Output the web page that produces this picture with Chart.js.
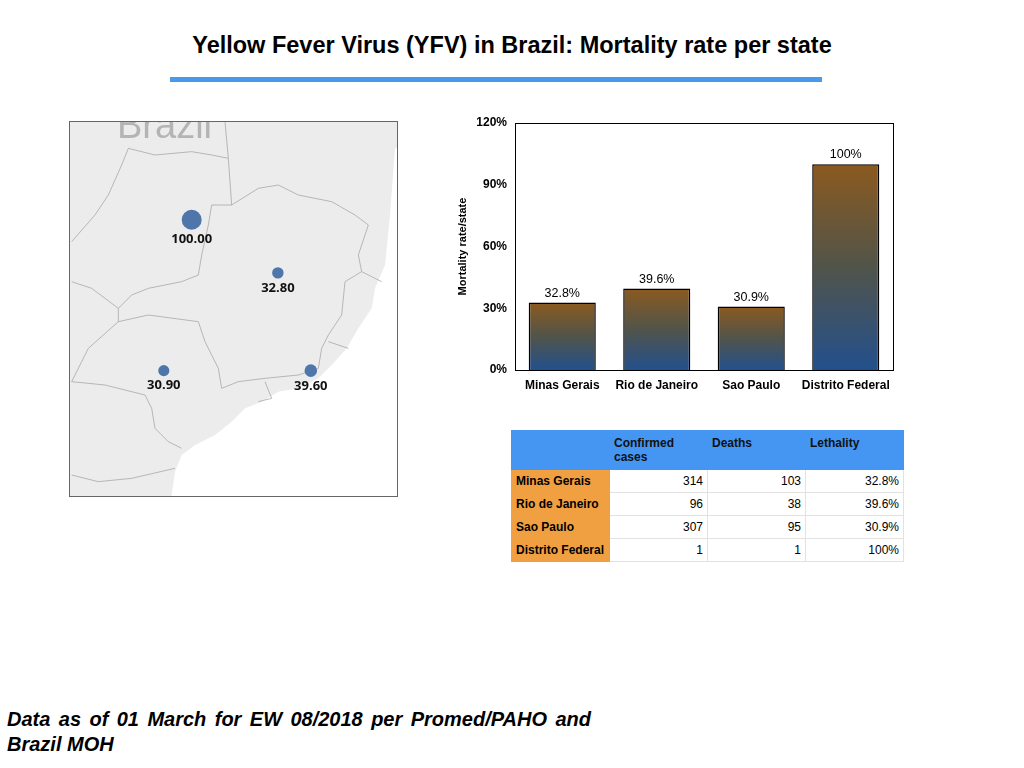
<!DOCTYPE html>
<html>
<head>
<meta charset="utf-8">
<script src="https://cdn.jsdelivr.net/npm/chart.js@4/dist/chart.umd.min.js"></script>
<style>
  body { margin: 0; width: 1024px; height: 768px; background: #fff; position: relative; overflow: hidden; font-family: "Liberation Sans", Arial, sans-serif; }
  #title { position: absolute; left: 0; width: 1024px; top: 32px; text-align: center; font-weight: bold; font-size: 23.5px; color: #000; }
  #rule { position: absolute; left: 170px; top: 77px; width: 652px; height: 5px; background: #4a98ec; }
  #mapBox { position: absolute; left: 70px; top: 122px; width: 327px; height: 374px; }
  #mapFrame { position: absolute; left: 69px; top: 121px; width: 327px; height: 374px; border: 1.5px solid #666; pointer-events: none; }
  #barBox { position: absolute; left: 450px; top: 110px; width: 460px; height: 290px; }
  #tbl { position: absolute; left: 511px; top: 430px; border-collapse: collapse; font-size: 12px; table-layout: fixed; }
  #tbl td { border: 1px solid #e2e2e2; padding: 0 4px; height: 22px; width: 89px; white-space: nowrap; }
  #tbl tr.head td { background: #4496f2; font-weight: bold; vertical-align: top; height: 33px; padding-top: 5px; border-color: #4496f2; color: #111; white-space: normal; }
  #tbl td.name { background: #f0a040; font-weight: bold; border-color: #f0a040; padding: 0 2px 0 4px; }
  #tbl td.num { text-align: right; }
  #note { position: absolute; left: 7px; top: 707px; width: 584px; font-weight: bold; font-style: italic; font-size: 20px; line-height: 25px; }
  #note .l1 { text-align: justify; text-align-last: justify; }
</style>
</head>
<body>
<div id="title">Yellow Fever Virus (YFV) in Brazil: Mortality rate per state</div>
<div id="rule"></div>
<div id="mapBox"><canvas id="mapChart"></canvas></div>
<div id="mapFrame"></div>
<div id="barBox"><canvas id="barChart"></canvas></div>
<table id="tbl"></table>
<div id="note"><div class="l1">Data as of 01 March for EW 08/2018 per Promed/PAHO and</div><div>Brazil MOH</div></div>

<script>
// data
var states = ['Minas Gerais', 'Rio de Janeiro', 'Sao Paulo', 'Distrito Federal'];
var mortality = [32.8, 39.6, 30.9, 100];
var confirmed = [314, 96, 307, 1];
var deaths = [103, 38, 95, 1];
var yTicks = [0, 30, 60, 90, 120];

// map dot positions (lon / lat, roughly as placed on the map picture)
var dotLon = [-44.5, -43.2, -49.0, -47.9];
var dotLat = [-18.3, -22.9, -22.9, -15.8];

function fmtPct(v) {
  return (v % 1 === 0 ? v : v.toFixed(1)) + '%';
}

// table
var tbl = document.getElementById('tbl');
var html = '<tr class="head"><td></td><td>Confirmed<br>cases</td><td>Deaths</td><td>Lethality</td></tr>';
for (var i = 0; i < states.length; i++) {
  html += '<tr><td class="name">' + states[i] + '</td><td class="num">' + confirmed[i] +
    '</td><td class="num">' + deaths[i] + '</td><td class="num">' + fmtPct(mortality[i]) + '</td></tr>';
}
tbl.innerHTML = html;

Chart.defaults.font.family = '"Liberation Sans", Arial, sans-serif';
Chart.defaults.color = '#000';

// bar chart --------------------------------------------------------------
var boxPlugin = {
  id: 'box',
  afterDatasetsDraw: function(chart) {
    var a = chart.chartArea, c = chart.ctx;
    c.save();
    c.strokeStyle = '#000';
    c.lineWidth = 1;
    c.strokeRect(a.left + 0.5, a.top + 0.5, a.right - a.left, a.bottom - a.top);
    // value labels
    c.font = '12.5px "Liberation Sans", Arial, sans-serif';
    c.fillStyle = '#000';
    c.textAlign = 'center';
    c.textBaseline = 'bottom';
    chart.getDatasetMeta(0).data.forEach(function(bar, i) {
      c.fillText(fmtPct(mortality[i]), bar.x, bar.y - 3);
    });
    c.restore();
  }
};

new Chart(document.getElementById('barChart'), {
  type: 'bar',
  data: {
    labels: states,
    datasets: [{
      data: mortality,
      backgroundColor: function(ctx) {
        var chart = ctx.chart;
        if (!chart.chartArea || ctx.parsed === undefined) return '#555';
        var y = chart.scales.y;
        var top = y.getPixelForValue(ctx.parsed.y), bottom = y.getPixelForValue(0);
        var g = chart.ctx.createLinearGradient(0, top, 0, bottom);
        g.addColorStop(0, '#8b5a1f');
        g.addColorStop(0.5, '#51544a');
        g.addColorStop(1, '#23508d');
        return g;
      },
      borderColor: '#000',
      borderWidth: 1.5,
      barPercentage: 0.71,
      categoryPercentage: 1
    }]
  },
  options: {
    responsive: true,
    maintainAspectRatio: false,
    animation: false,
    layout: { padding: { top: 13, right: 17, left: 0, bottom: 0 } },
    plugins: { legend: { display: false }, tooltip: { enabled: false } },
    scales: {
      x: {
        grid: { display: false },
        border: { display: false },
        ticks: { font: { size: 12, weight: 'bold' }, padding: 0 },
        afterFit: function(s) { s.height = 30; }
      },
      y: {
        min: 0, max: 120,
        afterBuildTicks: function(s) { s.ticks = yTicks.map(function(v) { return { value: v }; }); },
        grid: { display: false },
        border: { display: false },
        ticks: { font: { size: 12, weight: 'bold' }, padding: 0, callback: function(v) { return v + '%'; } },
        title: { display: true, text: 'Mortality rate/state', font: { size: 11, weight: 'bold' }, padding: { top: 6, bottom: 0 } },
        afterFit: function(s) { s.width = 65; }
      }
    }
  },
  plugins: [boxPlugin]
});

// map (bubble chart over a sketched background) ---------------------------
// background sketch, in pixels of the map box
function z(p) { return [p[0] / 3 - 5, p[1] / 3 - 7]; }
var coast = [[990,100],[975,300],[960,450],[930,520],[920,580],[880,640],[845,700],[800,750],[760,790],[700,820],[640,830],[590,860],[540,880],[500,920],[450,960],[390,990],[350,1020],[330,1070],[320,1140]].map(z);
var borders = [
  [[480,20],[490,130],[500,270],[440,270],[430,330],[410,420],[400,480],[350,500],[250,520],[200,540],[160,580],[160,620],[70,700],[20,800]],
  [[500,270],[580,220],[640,210],[700,240],[800,260],[870,300],[910,330],[880,420],[890,470],[840,500],[830,600],[790,660],[770,700],[760,760]],
  [[160,620],[250,600],[400,620],[420,680],[440,720],[460,760],[470,820],[520,800],[600,790],[700,780],[760,760]],
  [[20,800],[120,810],[240,840],[260,880],[270,940],[310,980],[350,1000]],
  [[20,380],[90,300],[130,240],[170,150],[190,100],[270,120],[380,110],[440,120],[490,130]],
  [[20,500],[80,520],[160,580]],
  [[890,470],[950,500]],
  [[790,680],[850,700]],
  [[20,1080],[100,1100],[200,1090],[330,1060]],
  [[600,800],[620,850],[580,860]]
].map(function(l) { return l.map(z); });

var mapBg = {
  id: 'mapBg',
  beforeDatasetsDraw: function(chart) {
    var c = chart.ctx, w = chart.width, h = chart.height;
    c.save();
    c.fillStyle = '#ececec';
    c.fillRect(0, 0, w, h);
    c.fillStyle = '#fff';
    c.beginPath();
    c.moveTo(w, coast[0][1]);
    coast.forEach(function(p) { c.lineTo(p[0], p[1]); });
    c.lineTo(coast[coast.length - 1][0], h);
    c.lineTo(w, h);
    c.closePath();
    c.fill();
    c.strokeStyle = '#a8a8a8';
    c.lineWidth = 0.8;
    borders.forEach(function(l) {
      c.beginPath();
      l.forEach(function(p, i) { if (i) c.lineTo(p[0], p[1]); else c.moveTo(p[0], p[1]); });
      c.stroke();
    });
    c.font = '38px "Liberation Sans", Arial, sans-serif';
    c.fillStyle = '#b4b4b4';
    c.textBaseline = 'alphabetic';
    c.fillText('Brazil', 47, 16);
    c.restore();
  },
  afterDatasetsDraw: function(chart) {
    var c = chart.ctx;
    c.save();
    c.font = 'bold 13px "Open Sans", sans-serif';
    c.fillStyle = '#111';
    c.textAlign = 'center';
    c.textBaseline = 'top';
    chart.getDatasetMeta(0).data.forEach(function(pt, i) {
      c.fillText(mortality[i].toFixed(2), pt.x, pt.y + Math.sqrt(mortality[i]) + 3);
    });
    c.restore();
  }
};

new Chart(document.getElementById('mapChart'), {
  type: 'bubble',
  data: {
    datasets: [{
      data: states.map(function(s, i) { return { x: dotLon[i], y: dotLat[i], r: Math.sqrt(mortality[i]) }; }),
      backgroundColor: '#4e76aa',
      borderWidth: 0
    }]
  },
  options: {
    responsive: true,
    maintainAspectRatio: false,
    animation: false,
    layout: { padding: 0, autoPadding: false },
    plugins: { legend: { display: false }, tooltip: { enabled: false } },
    scales: {
      x: { display: false, min: -52.7, max: -39.8 },
      y: { display: false, min: -28.8, max: -11.2 }
    }
  },
  plugins: [mapBg]
});
</script>
</body>
</html>
